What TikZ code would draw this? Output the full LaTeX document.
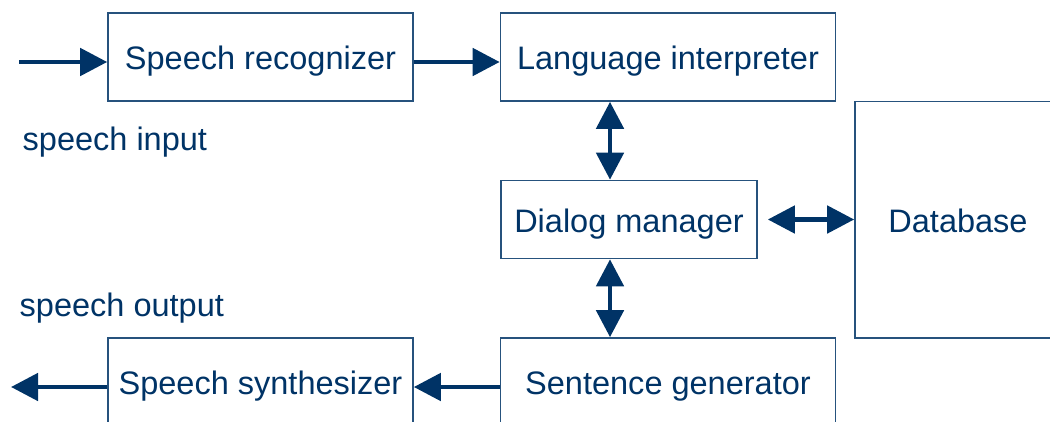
\documentclass[tikz,border=0pt]{standalone}
\usepackage{fontspec}
\setmainfont{Liberation Sans}
\usetikzlibrary{arrows.meta}
\definecolor{navy}{RGB}{0,51,102}

\begin{document}
\begin{tikzpicture}[x=0.1mm, y=-0.1mm, text=navy,
		font=\fontsize{9.25pt}{11pt}\selectfont,
		>={Triangle[length=2.7mm, width=2.7mm]},
		block/.style={draw=navy!85, line width=0.45pt, inner sep=0pt, text height=2.85mm, text depth=0.35mm},
		link/.style={navy, line width=1.35pt}]
			\useasboundingbox (0,0) rectangle (1050,421);
			
			\node[block, minimum width=30.5mm, minimum height=8.8mm] (rec) at (260.5, 57){Speech recognizer};
			\node[block, minimum width=33.5mm, minimum height=8.8mm] (interp) at (668, 57){Language interpreter};
			\node[block, minimum width=25.6mm, minimum height=7.8mm] (dm) at (629, 219.5){Dialog manager};
			\node[block, minimum width=20.6mm, minimum height=23.65mm] (db) at (958, 219.75){Database};
			\node[block, minimum width=33.5mm, minimum height=8.8mm] (gen) at (668, 382){Sentence generator};
			\node[block, minimum width=30.5mm, minimum height=8.8mm] (synth) at (260.5, 382){Speech synthesizer};
			
			\node[anchor=base west, inner sep=0pt] (inlabel) at (22, 150){speech input};
			\node[anchor=base west, inner sep=0pt] (outlabel) at (19, 316){speech output};
			
			\coordinate (in) at (19, 62);
			\coordinate (out) at (11, 387);
			\coordinate (toprow) at (0, 62);
			\coordinate (botrow) at (0, 387);
			\coordinate (col) at (610, 0);
			
			\draw[link, ->] (in) -- (rec.west |- in);
			\draw[link, ->] (rec.east |- toprow) -- (interp.west |- toprow);
			\draw[link, <->] (interp.south -| col) -- (dm.north -| col);
			\draw[link, <->] (dm.south -| col) -- (gen.north -| col);
			\draw[link, <->, shorten <=1mm] (dm.east) -- (db.west |- dm.east);
			\draw[link, ->] (gen.west |- botrow) -- (synth.east |- botrow);
			\draw[link, ->] (synth.west |- out) -- (out);
		\end{tikzpicture}
\end{document}
